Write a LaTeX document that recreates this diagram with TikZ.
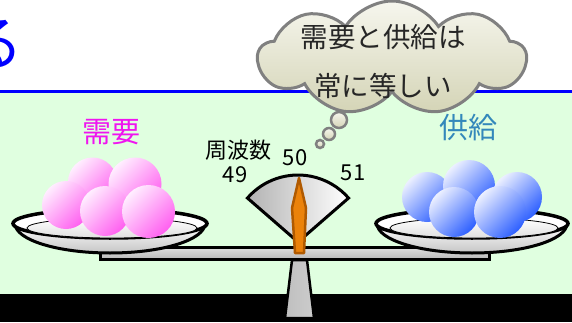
\documentclass[tikz,border=0pt]{standalone}
\usepackage{fontspec}
\newfontfamily\jpfont{Noto Sans CJK JP}
\usetikzlibrary{shapes.symbols}

\definecolor{mint}{RGB}{224,255,224}
\definecolor{titleblue}{RGB}{0,0,255}
\definecolor{demandpink}{RGB}{240,20,240}
\definecolor{supplyblue}{RGB}{51,136,187}
\definecolor{cloudtop}{RGB}{246,246,238}
\definecolor{cloudbottom}{RGB}{212,212,182}
\definecolor{cloudline}{RGB}{128,128,128}
\definecolor{pinklight}{RGB}{255,238,255}
\definecolor{pinkmid}{RGB}{255,175,255}
\definecolor{pinkdark}{RGB}{255,95,240}
\definecolor{bluelight}{RGB}{236,240,255}
\definecolor{bluemid}{RGB}{140,165,255}
\definecolor{bluedark}{RGB}{45,95,255}
\definecolor{needleedge}{RGB}{176,90,0}
\definecolor{needlelight}{RGB}{255,210,130}
\definecolor{needleorange}{RGB}{235,130,10}

\begin{document}
\begin{tikzpicture}[x=1pt,y=1pt,
    bigword/.style={font=\jpfont\fontsize{29}{29}\selectfont, inner sep=0pt},
    dialword/.style={font=\jpfont\fontsize{22}{22}\selectfont, inner sep=0pt},
    pinkball/.style={top color=pinklight, middle color=pinkmid, bottom color=pinkdark, shading angle=45},
    blueball/.style={top color=bluelight, middle color=bluemid, bottom color=bluedark, shading angle=45},
    puff/.style={draw=cloudline, line width=2.5pt, top color=cloudtop, bottom color=cloudbottom}]

\useasboundingbox (0,0) rectangle (572,322);
\clip (0,0) rectangle (572,322);

%---------------------------------------
% Background
%---------------------------------------
\fill[white] (0,0) rectangle (572,322);
\fill[mint] (0,28) rectangle (572,231);
\fill[black] (0,0) rectangle (572,28);
\draw[titleblue, line width=3pt] (0,231) -- (572,231);

\node[font=\jpfont\fontsize{60}{60}\selectfont, text=titleblue, anchor=east, inner sep=0pt]
  (titlechar) at (24,278) {る};

%---------------------------------------
% Thought cloud
%---------------------------------------
\node[cloud, cloud puffs=9, cloud puff arc=115, aspect=2.4, minimum width=268pt, minimum height=114pt,
      draw=cloudline, line width=3pt, top color=cloudtop, bottom color=cloudbottom]
  (bubble) at (392,264) {};
\draw[puff] (339,202) circle (8);
\draw[puff] (329,188) circle (6);
\draw[puff] (320,178) circle (4);

\node[font=\jpfont\fontsize{27.5}{49}\selectfont, align=center, text=black!85]
  (bubbletext) at (383,260.5) {需要と供給は\\常に等しい};

%---------------------------------------
% Labels
%---------------------------------------
\node[bigword, text=demandpink] (demand) at (111,190) {需要};
\node[bigword, text=supplyblue] (supply) at (468,194) {供給};
\node[dialword] (freq) at (238,172) {周波数};
\node[dialword] (mid) at (295,164) {50};
\node[dialword] (low) at (235,147) {49};
\node[dialword] (high) at (353,149) {51};

%---------------------------------------
% Balance: stand, beam, dial, needle
%---------------------------------------
\draw[line width=2.5pt, left color=gray!50, middle color=white, right color=gray!40]
  (292,62) -- (307,62) -- (314,4) -- (285,4) -- cycle;

\draw[line width=3pt, top color=gray!25, middle color=white, bottom color=gray!55]
  (100,63) rectangle (489,75);

\draw[line width=3pt, left color=gray!60, right color=white]
  (298,80) -- ++(139:67) arc[start angle=139, end angle=41, radius=67] -- cycle;

\draw[line width=2.5pt, needleedge, line join=round,
      left color=needleorange, middle color=needlelight, right color=needleorange]
  (299,144) -- (306,114) -- (304,69) -- (295,69) -- (292,114) -- cycle;

%---------------------------------------
% LEFT PAN: demand
%---------------------------------------
\begin{scope}[xshift=110pt]
  % dish
  \draw[line width=3pt, top color=white, bottom color=gray!45]
    (-95,98.5) arc[start angle=180, end angle=360, x radius=95, y radius=29.5] -- cycle;
  \draw[line width=3.5pt, fill=white] (0,98.5) ellipse[x radius=97, y radius=14.5];
  \draw[line width=0.8pt, top color=white, bottom color=gray!25] (2,94) ellipse[x radius=85, y radius=10];

  % balls
  \shade[pinkball] (-17.5,140) circle (24.5);
  \shade[pinkball] (25,138) circle (26.5);
  \shade[pinkball] (-44,117) circle (24);
  \shade[pinkball] (-5,111) circle (25);
  \shade[pinkball] (38.5,110.5) circle (26.5);
\end{scope}

%---------------------------------------
% RIGHT PAN: supply
%---------------------------------------
\begin{scope}[xshift=472pt]
  % dish
  \draw[line width=3pt, top color=white, bottom color=gray!45]
    (-95,98.5) arc[start angle=180, end angle=360, x radius=95, y radius=29.5] -- cycle;
  \draw[line width=3.5pt, fill=white] (0,98.5) ellipse[x radius=96, y radius=14.5];
  \draw[line width=0.8pt, top color=white, bottom color=gray!25] (2,94) ellipse[x radius=84, y radius=10];

  % balls
  \shade[blueball] (-45,125) circle (25);
  \shade[blueball] (-3,136) circle (26);
  \shade[blueball] (45,125) circle (25);
  \shade[blueball] (-18,110) circle (25);
  \shade[blueball] (28,110) circle (26);
\end{scope}

\end{tikzpicture}
\end{document}
